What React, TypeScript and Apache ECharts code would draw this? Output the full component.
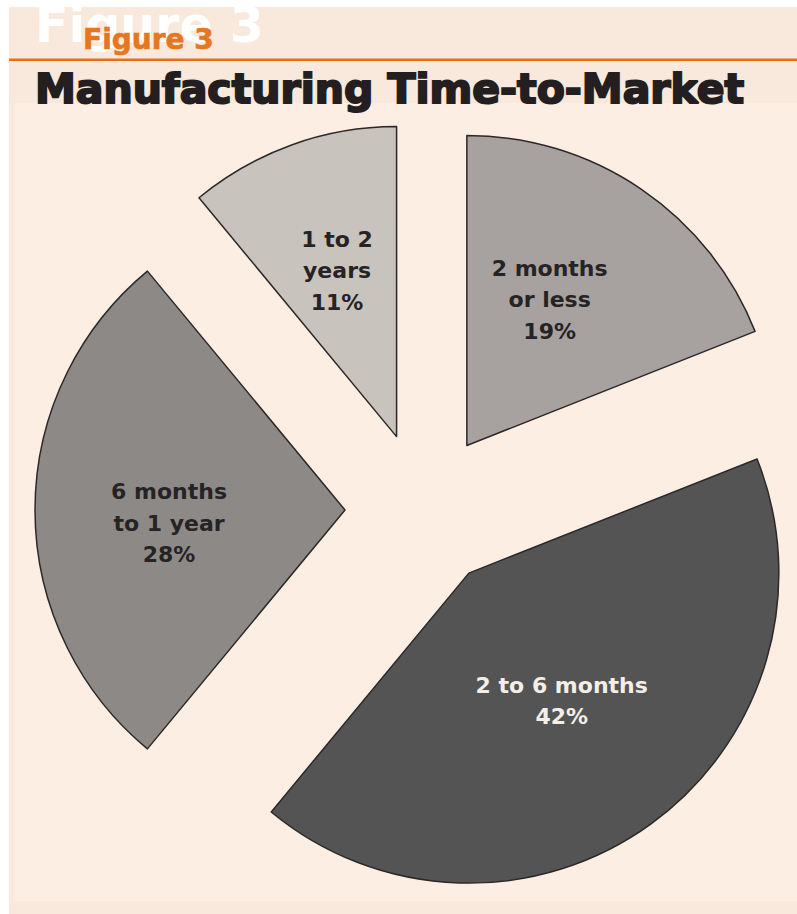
import React, { useEffect, useRef } from "react";
import * as echarts from "echarts";

const categories = ["2 months\nor less", "2 to 6 months", "6 months\nto 1 year", "1 to 2\nyears"];
const values = [19, 42, 28, 11];
const sliceColors = ["#a7a29f", "#555454", "#8d8987", "#c9c3be"];
const labelColors = ["#262324", "#f4eee8", "#262324", "#262324"];
const labelShift = [
  [-6, -15],
  [0, 0],
  [-18, 13],
  [-6, -17],
];

export default function App() {
  const ref = useRef<HTMLDivElement>(null);
  useEffect(() => {
    if (!ref.current) return;
    const chart = echarts.init(ref.current, undefined, { renderer: "svg" });
    const data = categories.map((name, i) => ({
      name,
      value: values[i],
      selected: true,
      itemStyle: { color: sliceColors[i] },
      label: { color: labelColors[i] },
      select: {
        itemStyle: { color: sliceColors[i], borderColor: "#2b2828", borderWidth: 1.5 },
        label: { color: labelColors[i] },
      },
    }));
    chart.setOption({
      animation: false,
      backgroundColor: "#ffffff",
      graphic: [
        { type: "rect", z: -10, shape: { x: 9, y: 7, width: 788, height: 907 }, style: { fill: "#f9e8dc" }, silent: true },
        { type: "rect", z: -9, shape: { x: 15, y: 103, width: 782, height: 798 }, style: { fill: "#fdeee3" }, silent: true },
        {
          type: "text",
          z: -8,
          x: 35,
          y: 25,
          style: {
            text: "Figure 3",
            fill: "#ffffff",
            font: "bold 49px 'DejaVu Sans', sans-serif",
            verticalAlign: "middle",
          },
          silent: true,
        },
        {
          type: "text",
          z: 5,
          x: 83,
          y: 39.6,
          style: {
            text: "Figure 3",
            fill: "#e6761f",
            stroke: "#e6761f",
            lineWidth: 0.6,
            font: "bold 28px 'DejaVu Sans', sans-serif",
            verticalAlign: "middle",
          },
          silent: true,
        },
        {
          type: "line",
          z: 5,
          shape: { x1: 9, y1: 59.7, x2: 797, y2: 59.7 },
          style: { stroke: "#e2701f", lineWidth: 2.5 },
          silent: true,
        },
        {
          type: "text",
          z: 5,
          x: 35,
          y: 88.8,
          style: {
            text: "Manufacturing Time-to-Market",
            fill: "#231f20",
            stroke: "#231f20",
            lineWidth: 2,
            font: "bold 41px 'DejaVu Sans', sans-serif",
            verticalAlign: "middle",
          },
          silent: true,
        },
      ],
      series: [
        {
          type: "pie",
          center: [423, 510],
          radius: 310,
          startAngle: 90,
          clockwise: true,
          selectedMode: "multiple",
          selectedOffset: 78,
          avoidLabelOverlap: false,
          emphasis: { disabled: true },
          itemStyle: { borderColor: "#2b2828", borderWidth: 1.5 },
          label: {
            show: true,
            position: "inside",
            formatter: "{b}\n{c}%",
            fontFamily: "'DejaVu Sans', sans-serif",
            fontWeight: "bold",
            fontSize: 22,
            lineHeight: 31.5,
            align: "center",
          },
          labelLine: { show: false },
          labelLayout: (p: any) => ({ dx: labelShift[p.dataIndex][0], dy: labelShift[p.dataIndex][1] }),
          data,
        },
      ],
    });
    return () => chart.dispose();
  }, []);
  return <div ref={ref} style={{ position: "absolute", left: 0, top: 0, width: 797, height: 914 }} />;
}
